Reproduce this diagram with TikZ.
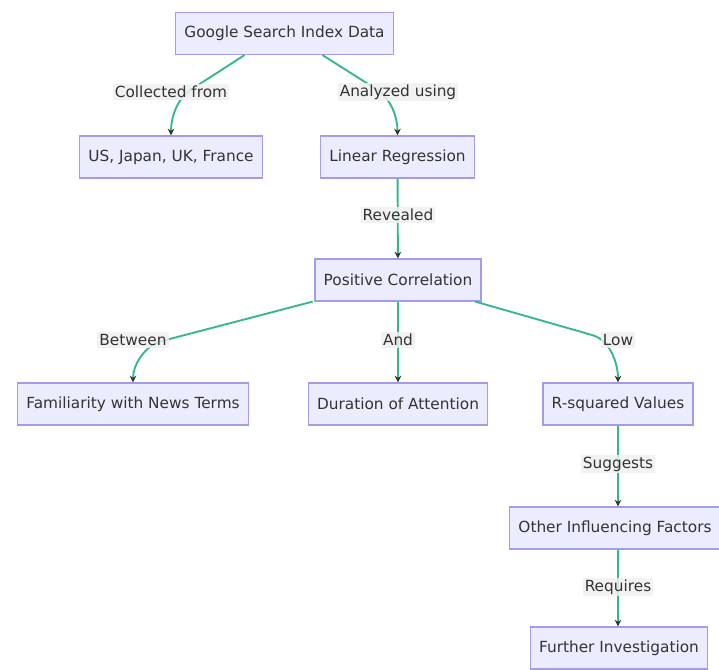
\documentclass[tikz,border=0pt]{standalone}
\usepackage{fontspec}
\setmainfont{DejaVu Sans}
\usetikzlibrary{arrows.meta}
\definecolor{boxfill}{HTML}{ECECFF}
\definecolor{boxline}{HTML}{A49CE6}
\definecolor{edgeline}{HTML}{33B88A}
\definecolor{labelbg}{HTML}{F0F0F0}
\definecolor{txt}{HTML}{333333}
\begin{document}
\begin{tikzpicture}[x=0.75pt,y=0.75pt,
		box/.style={draw=boxline,fill=boxfill,line width=0.9pt,minimum height=31.5pt,inner xsep=6.5pt,text=txt,font=\fontsize{11.5}{13}\selectfont},
		lbl/.style={fill=labelbg,fill opacity=0.85,text opacity=1,text=txt,inner sep=1.5pt,font=\fontsize{11.5}{13}\selectfont},
		edge/.style={draw=edgeline,line width=1.4pt,-{Stealth[length=5pt,width=5pt,color=txt]}}]
				%%%%% START %%%%%
				\useasboundingbox (0,0) rectangle (719,-670);
				
				\node[box] (gsid) at (284.5,-33.5) {Google Search Index Data};
				\node[box] (cntry) at (171,-157) {US, Japan, UK, France};
				\node[box] (linreg) at (397.5,-157) {Linear Regression};
				\node[box] (poscor) at (398,-280) {Positive Correlation};
				\node[box] (famil) at (133,-404) {Familiarity with News Terms};
				\node[box] (durat) at (398,-404) {Duration of Attention};
				\node[box] (rsq) at (618,-404) {R-squared Values};
				\node[box] (other) at (615,-528) {Other Influencing Factors};
				\node[box] (furth) at (619,-648) {Further Investigation};
				
				% bend points of the curved edges
				\coordinate (b1) at (192,-89);
				\coordinate (b2) at (376,-89);
				\coordinate (b4) at (162,-341);
				\coordinate (b6) at (592,-335);
				
				\draw[edge] ([xshift=-30pt]gsid.south) -- (b1) to[out=-148,in=90,looseness=0.9] (cntry.north);
				\draw[edge] ([xshift=28.5pt]gsid.south) -- (b2) to[out=-32,in=90,looseness=0.9] (linreg.north);
				\draw[edge] (linreg) -- (poscor);
				
				\draw[edge] ([xshift=-64pt]poscor.south) -- (b4) to[out=-165,in=90,looseness=0.9] (famil.north);
				\draw[edge] (poscor) -- (durat);
				\draw[edge] ([xshift=58pt]poscor.south) -- (b6) to[out=-16,in=90,looseness=0.9] (rsq.north);
				
				\draw[edge] (rsq) -- (rsq|-other.north);
				\draw[edge] (rsq|-other.south) -- (rsq|-furth.north);
				
				\node[lbl] (l1) at (171,-92) {Collected from};
				\node[lbl] (l2) at (398,-92) {Analyzed using};
				\node[lbl] (l3) at (398,-215) {Revealed};
				\node[lbl] (l4) at (133,-340) {Between};
				\node[lbl] (l5) at (398,-340) {And};
				\node[lbl] (l6) at (618,-340) {Low};
				\node[lbl] (l7) at (618,-464) {Suggests};
				\node[lbl] (l8) at (618,-587) {Requires};
				%%%%% END %%%%%
\end{tikzpicture}
\end{document}
